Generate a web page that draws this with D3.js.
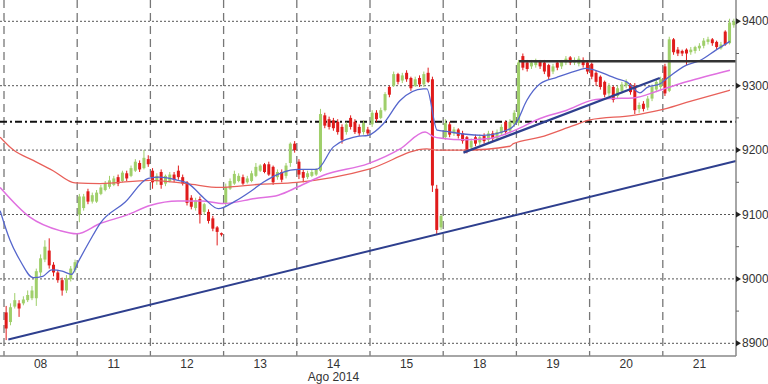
<!DOCTYPE html>
<html>
<head>
<meta charset="utf-8">
<script src="https://cdnjs.cloudflare.com/ajax/libs/d3/7.8.5/d3.min.js"></script>
<style>
body{margin:0;background:#fff;}
svg{display:block;}
.ylab{font-family:"Liberation Sans Narrow","Liberation Sans",sans-serif;font-size:12px;fill:#333;}
.xlab{font-family:"Liberation Sans Narrow","Liberation Sans",sans-serif;font-size:12px;fill:#333;}
</style>
</head>
<body>
<div id="chart"></div>
<script>
// 30 min bars, 17 per session
var days = ["08","11","12","13","14","15","18","19","20","21"]
var barsPerDay = 17
var monthLabel = "Ago 2014"
var yTicks = [8900,9000,9100,9200,9300,9400]
var yMinor = [8950,9050,9150,9250,9350]

var open = [
 8948,8933,8957,8962,8962,8967,8970,8970,9010,9030,9044,9022,9010,8998,8982,9000,9014,
 9100,9110,9136,9120,9120,9132,9138,9143,9146,9158,9152,9164,9160,9168,9180,9172,9186,
 9168,9152,9166,9148,9152,9162,9168,9158,9150,9126,9110,9124,9104,9104,9094,9080,9071,
 9118,9140,9148,9152,9158,9150,9152,9160,9168,9178,9178,9174,9158,9166,9160,9180,9210,
 9182,9166,9158,9160,9162,9168,9254,9248,9246,9244,9236,9228,9250,9244,9236,9228,9232,
 9240,9258,9250,9262,9298,9300,9318,9308,9320,9312,9300,9312,9302,9320,9310,9140,9080,
 9220,9240,9226,9232,9226,9220,9204,9220,9212,9222,9216,9226,9218,9226,9244,9230,9240,
 9242,9346,9336,9330,9332,9338,9336,9332,9322,9336,9330,9336,9344,9336,9334,9340,9336,
 9334,9320,9314,9306,9288,9298,9284,9292,9300,9302,9300,9264,9272,9266,9280,9294,9298,
 9330,9292,9372,9356,9354,9356,9352,9354,9358,9362,9368,9372,9368,9358,9384,9366,9394]
var high = [
 8958,8962,8978,8967,8973,8982,8989,9016,9038,9060,9063,9026,9014,9002,9006,9020,9030,
 9132,9132,9140,9134,9138,9146,9152,9160,9160,9162,9168,9168,9176,9186,9184,9200,9192,
 9172,9164,9170,9162,9166,9166,9176,9162,9152,9130,9126,9128,9118,9108,9098,9082,9072,
 9148,9156,9168,9164,9162,9160,9168,9180,9178,9180,9182,9176,9170,9170,9180,9212,9214,
 9186,9170,9168,9170,9172,9264,9258,9252,9250,9248,9240,9244,9254,9248,9240,9246,9236,
 9262,9262,9266,9290,9300,9322,9320,9320,9324,9314,9314,9316,9322,9328,9314,9146,9100,
 9248,9244,9236,9234,9230,9222,9218,9224,9224,9226,9230,9230,9232,9240,9246,9248,9262,
 9340,9350,9340,9340,9342,9340,9340,9334,9334,9338,9340,9346,9346,9344,9346,9344,9338,
 9336,9324,9316,9308,9304,9300,9300,9306,9310,9304,9304,9274,9276,9284,9302,9310,9314,
 9334,9376,9374,9360,9356,9358,9360,9362,9366,9374,9376,9374,9370,9368,9386,9404,9404]
var low = [
 8905,8928,8954,8941,8959,8964,8967,8958,9004,9026,9016,9004,8994,8974,8978,8996,9010,
 9088,9106,9116,9117,9118,9130,9136,9140,9144,9144,9150,9152,9158,9166,9166,9170,9174,
 9140,9146,9140,9144,9150,9150,9154,9145,9114,9108,9106,9086,9100,9086,9074,9052,9066,
 9112,9138,9146,9150,9146,9148,9150,9158,9166,9164,9160,9146,9154,9150,9156,9174,9196,
 9155,9150,9155,9158,9160,9166,9234,9232,9230,9224,9210,9224,9232,9225,9222,9224,9222,
 9236,9244,9248,9260,9282,9298,9302,9304,9306,9292,9298,9298,9298,9304,9135,9068,9076,
 9216,9220,9222,9218,9210,9195,9200,9206,9208,9210,9212,9214,9214,9222,9224,9226,9236,
 9238,9324,9322,9326,9328,9326,9318,9310,9318,9324,9326,9332,9332,9332,9330,9328,9318,
 9310,9300,9294,9282,9284,9274,9280,9288,9296,9286,9256,9258,9260,9262,9276,9290,9294,
 9284,9290,9348,9346,9346,9332,9348,9350,9354,9358,9364,9362,9356,9356,9362,9364,9390]
var close = [
 8923,8956,8967,8954,8968,8975,8982,9012,9032,9050,9021,9010,8998,8982,9001,9016,9026,
 9128,9128,9120,9130,9134,9142,9148,9153,9156,9148,9165,9156,9172,9182,9170,9188,9178,
 9150,9160,9146,9160,9162,9154,9158,9148,9118,9112,9122,9100,9116,9090,9078,9073,9069,
 9143,9152,9163,9160,9148,9156,9164,9174,9176,9166,9162,9150,9166,9154,9176,9210,9200,
 9162,9157,9164,9166,9170,9256,9238,9236,9234,9228,9216,9240,9236,9228,9226,9242,9226,
 9258,9248,9262,9287,9286,9318,9306,9316,9310,9296,9310,9302,9318,9306,9145,9076,9098,
 9242,9224,9232,9222,9214,9200,9214,9210,9220,9214,9226,9218,9228,9236,9228,9244,9258,
 9336,9328,9326,9336,9338,9330,9322,9314,9330,9328,9338,9342,9336,9340,9342,9332,9322,
 9314,9306,9298,9286,9300,9278,9296,9302,9306,9290,9262,9270,9264,9280,9298,9306,9310,
 9288,9372,9352,9350,9350,9350,9356,9360,9362,9370,9372,9366,9360,9364,9364,9398,9400]

// moving averages: [bar, value]
var maFast = [[-0.9,9106],[1.4,9060],[3.7,9029],[6.8,9002],[9,9004],[11.1,9014],[13.5,9012],[15.7,9007],
 [17.2,9026],[20,9060],[22.3,9086],[28.1,9119],[33.5,9156],[36,9158],[40.4,9153],[42.8,9148],[46.5,9125],
 [49.8,9109],[53.5,9120],[57.5,9137],[60.2,9150],[68.3,9170],[72.6,9170],[76.5,9205],[81.9,9221],[84.6,9223],
 [88.1,9241],[92,9277],[97.4,9295],[98.2,9295],[100.6,9231],[102.8,9229],[106.7,9225],[111.3,9223],[117.5,9233],
 [119,9243],[121.4,9277],[124.5,9303],[128.4,9313],[133.8,9325],[135,9327],[142.3,9311],[144.6,9306],[147.7,9289],
 [149.3,9297],[152.4,9303],[153.9,9311],[158.5,9332],[161.6,9339],[165.5,9356],[168.6,9369]]
var maMid = [[-0.9,9142],[6,9096],[13,9075],[16.9,9070],[22.3,9086],[28.5,9099],[33.9,9114],[40.4,9121],
 [45.9,9121],[50.9,9117],[58.3,9125],[63.7,9130],[68.3,9143],[74.2,9161],[84.6,9179],[92,9202],[97.8,9228],
 [99.7,9221],[102,9218],[106.7,9216],[112.9,9218],[118.7,9231],[124.5,9249],[130.7,9262],[136.9,9278],
 [140.7,9280],[146.1,9281],[152.3,9293],[158.5,9306],[168.6,9324]]
var maSlow = [[-0.9,9220],[2.2,9200],[6.8,9184],[11.4,9168],[16.5,9149],[22.3,9148],[33.9,9153],[42.4,9148],
 [50.2,9142],[59.5,9147],[68,9150],[85,9171],[98.2,9202],[100.4,9200],[106.7,9200],[117.5,9206],[118.3,9210],
 [124.5,9220],[132.2,9238],[136.1,9247],[146.1,9254],[152.3,9262],[158.5,9274],[168.6,9293]]

// drawn studies
var trendLong = [[1,8906],[170,9183]]
var trendShort = [[106.7,9196],[152.3,9312]]
var resistance = [[119.6,9338],[170,9338]]
var pivotLevel = 9244

var w = 768, h = 384
var plotRight = 736, plotBottom = 356

var svg = d3.select("#chart").append("svg")
    .attr("width", w)
    .attr("height", h)

var x = d3.scaleLinear().domain([0, days.length*barsPerDay]).range([4, plotRight])
var y = d3.scaleLinear().domain([8900, 9400]).range([343.3, 21.3])

// horizontal dotted grid
svg.selectAll(".hgrid").data(yTicks).enter().append("line")
    .attr("class", "hgrid")
    .attr("x1", 0).attr("x2", plotRight)
    .attr("y1", function(d){return y(d)}).attr("y2", function(d){return y(d)})
    .attr("stroke", "#555").attr("stroke-width", 1).attr("stroke-dasharray", "2,2")

// day separators
for (k=0; k<days.length; k++){
    svg.append("line")
        .attr("x1", x(k*barsPerDay)).attr("x2", x(k*barsPerDay))
        .attr("y1", 0).attr("y2", plotBottom)
        .attr("stroke", "#777").attr("stroke-width", 1.3).attr("stroke-dasharray", "8,5")
}

// pivot dash-dot
svg.append("line")
    .attr("x1", 0).attr("x2", plotRight)
    .attr("y1", y(pivotLevel)).attr("y2", y(pivotLevel))
    .attr("stroke", "#111").attr("stroke-width", 2).attr("stroke-dasharray", "7,3,2,3")

var bars = d3.range(open.length)

// wicks + bodies
svg.selectAll(".wick").data(bars).enter().append("line")
    .attr("class", "wick")
    .attr("x1", function(i){return x(i+0.5)}).attr("x2", function(i){return x(i+0.5)})
    .attr("y1", function(i){return y(high[i])}).attr("y2", function(i){return y(low[i])})
    .attr("stroke", function(i){return close[i]>=open[i] ? "#9fcf6a" : "#e01b1b"})
    .attr("stroke-width", 1)

svg.selectAll(".body").data(bars).enter().append("rect")
    .attr("class", "body")
    .attr("x", function(i){return x(i+0.5)-1.5})
    .attr("width", 3)
    .attr("y", function(i){return y(Math.max(open[i], close[i]))})
    .attr("height", function(i){return Math.max(1.5, Math.abs(y(open[i])-y(close[i])))})
    .attr("fill", function(i){return close[i]>=open[i] ? "#9fcf6a" : "#e01b1b"})

// moving averages
var maLine = d3.line()
    .x(function(d){return x(d[0])})
    .y(function(d){return y(d[1])})
    .curve(d3.curveMonotoneX)

svg.append("path").datum(maSlow).attr("d", maLine)
    .attr("fill", "none").attr("stroke", "#e8605a").attr("stroke-width", 1.3)
svg.append("path").datum(maMid).attr("d", maLine)
    .attr("fill", "none").attr("stroke", "#e070e0").attr("stroke-width", 1.5)
svg.append("path").datum(maFast).attr("d", maLine)
    .attr("fill", "none").attr("stroke", "#5566cc").attr("stroke-width", 1.3)

// trendlines
var straight = d3.line().x(function(d){return x(d[0])}).y(function(d){return y(d[1])})
svg.append("path").datum(trendLong).attr("d", straight)
    .attr("fill", "none").attr("stroke", "#2e3f8e").attr("stroke-width", 2)
svg.append("path").datum(trendShort).attr("d", straight)
    .attr("fill", "none").attr("stroke", "#2e3f8e").attr("stroke-width", 2.3)
svg.append("path").datum(resistance).attr("d", straight)
    .attr("fill", "none").attr("stroke", "#333").attr("stroke-width", 2.5)

// axes lines
svg.append("line")
    .attr("x1", plotRight).attr("x2", plotRight).attr("y1", 0).attr("y2", plotBottom)
    .attr("stroke", "#888").attr("stroke-width", 1.5)
svg.append("line")
    .attr("x1", 0).attr("x2", plotRight).attr("y1", plotBottom).attr("y2", plotBottom)
    .attr("stroke", "#888").attr("stroke-width", 1.5)

// right axis arrows + labels
yTicks.forEach(function(d){
    var yy = y(d)
    svg.append("path")
        .attr("d", "M"+plotRight+","+(yy-3)+"L"+(plotRight+5)+","+yy+"L"+plotRight+","+(yy+3)+"Z")
        .attr("fill", "#222")
    svg.append("text")
        .attr("class", "ylab")
        .attr("x", plotRight+6)
        .attr("y", yy+4)
        .text(d)
})
yMinor.forEach(function(d){
    svg.append("line")
        .attr("x1", plotRight).attr("x2", plotRight+3)
        .attr("y1", y(d)).attr("y2", y(d))
        .attr("stroke", "#666").attr("stroke-width", 1)
})

// day labels
days.forEach(function(d, k){
    svg.append("text")
        .attr("class", "xlab")
        .attr("x", x(k*barsPerDay + barsPerDay/2))
        .attr("y", 368)
        .attr("text-anchor", "middle")
        .text(d)
})
svg.append("text")
    .attr("class", "xlab")
    .attr("x", x(4*barsPerDay + barsPerDay/2))
    .attr("y", 381)
    .attr("text-anchor", "middle")
    .text(monthLabel)
</script>
</body>
</html>
